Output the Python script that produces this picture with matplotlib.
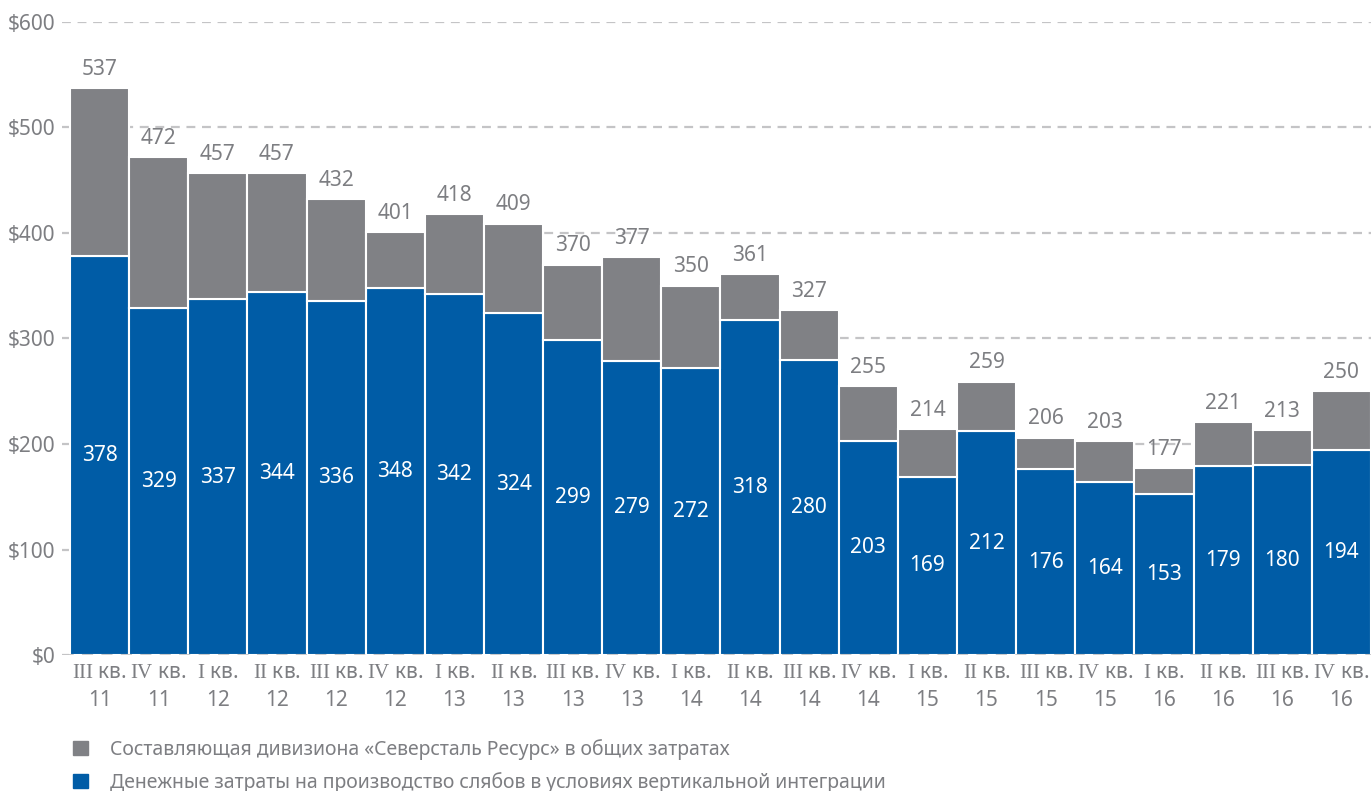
import matplotlib
matplotlib.use('Agg')
import matplotlib.pyplot as plt
from matplotlib.patches import Patch

plt.rcParams['font.family'] = ['Noto Sans', 'DejaVu Sans']
plt.rcParams['mathtext.fontset'] = 'custom'
plt.rcParams['mathtext.rm'] = 'Liberation Serif'

# квартал, год, общие затраты и денежные затраты
quarters = ['III', 'IV', 'I', 'II', 'III', 'IV', 'I', 'II', 'III', 'IV', 'I',
            'II', 'III', 'IV', 'I', 'II', 'III', 'IV', 'I', 'II', 'III', 'IV']
years = ['11', '11', '12', '12', '12', '12', '13', '13', '13', '13', '14',
         '14', '14', '14', '15', '15', '15', '15', '16', '16', '16', '16']
total = [537, 472, 457, 457, 432, 401, 418, 409, 370, 377, 350,
         361, 327, 255, 214, 259, 206, 203, 177, 221, 213, 250]
cash = [378, 329, 337, 344, 336, 348, 342, 324, 299, 279, 272,
        318, 280, 203, 169, 212, 176, 164, 153, 179, 180, 194]
yticks = [0, 100, 200, 300, 400, 500, 600]

blue = '#005ca6'
grey = '#808185'
txt = '#7d7e82'

fig = plt.figure(figsize=(13.71, 7.91), dpi=100)
ax = fig.add_axes([62 / 1371, 136 / 791, 1309 / 1371, 633 / 791])

x = list(range(len(total)))
resurs = [t - c for t, c in zip(total, cash)]

ax.bar(x, cash, width=1.0, color=blue, edgecolor='white', linewidth=1.5, zorder=2)
ax.bar(x, resurs, bottom=cash, width=1.0, color=grey, edgecolor='white',
       linewidth=1.5, zorder=2)

for i in x:
    ax.annotate(str(total[i]), (i, total[i]), xytext=(0, 6), textcoords='offset points',
                ha='center', va='bottom', fontsize=15, color=txt, zorder=4)
    ax.text(i, cash[i] / 2, str(cash[i]), ha='center', va='center',
            fontsize=15, color='white', zorder=4)

ax.set_xlim(-0.635, len(total) - 0.5)
ax.set_ylim(0, 600)
ax.set_yticks(yticks)
ax.set_yticklabels(['$' + str(v) for v in yticks], color=txt, fontsize=15)
ax.yaxis.grid(True, linestyle=(0, (4, 3)), color='#c4c4c6', linewidth=1.6, zorder=0)
ax.axhline(0, linestyle=(0, (4, 3)), color='#c4c4c6', linewidth=2, zorder=3)
ax.set_axisbelow(True)

ax.set_xticks(x)
ax.set_xticklabels([r'$\mathrm{%s}$ кв.' % q + '\n' + y for q, y in zip(quarters, years)],
                   color=txt, fontsize=15, linespacing=1.45)
ax.tick_params(axis='both', length=0)
ax.tick_params(axis='x', pad=5)
ax.tick_params(axis='y', pad=5)
for s in ax.spines.values():
    s.set_visible(False)

handles = [Patch(color=grey, label='Составляющая дивизиона «Северсталь Ресурс» в общих затратах'),
           Patch(color=blue, label='Денежные затраты на производство слябов в условиях вертикальной интеграции')]
fig.legend(handles=handles, loc='upper left', bbox_to_anchor=(73 / 1371, 1 - 739 / 791),
           frameon=False, fontsize=14, labelcolor=txt, handlelength=0.78, handleheight=0.78,
           handletextpad=1.1, labelspacing=0.62, borderpad=0, borderaxespad=0)

fig.savefig('out.png', dpi=100)
